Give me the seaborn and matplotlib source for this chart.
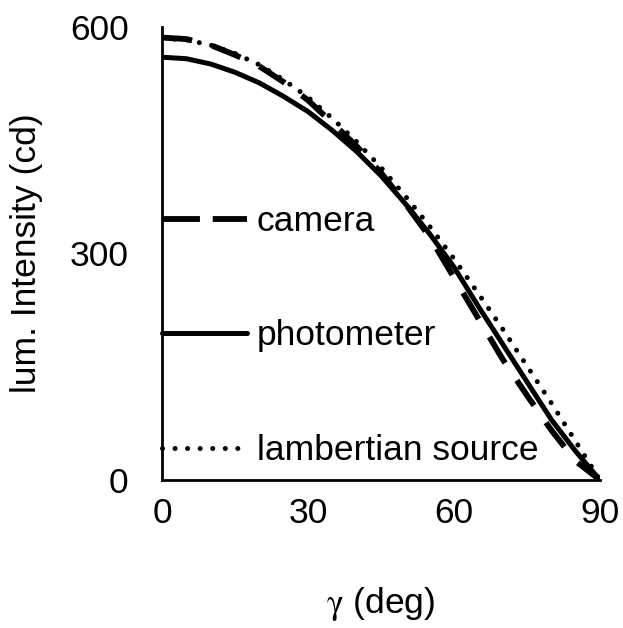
import numpy as np
import pandas as pd
import matplotlib
matplotlib.use("Agg")
import matplotlib.pyplot as plt
import seaborn as sns

# Emission angle (deg)
gamma_deg = [0, 5, 10, 15, 20, 25, 30, 35, 40, 45, 50, 55, 60, 65, 70, 75, 80, 85, 90]

# Luminous intensity (cd) per measurement method
camera = [586, 584, 576, 563, 548, 527, 503, 473, 442, 407, 366, 322, 268, 214, 160, 112, 66, 25, 0]
photometer = [560, 558, 551, 540, 526, 508, 488, 463, 435, 403, 366, 326, 282, 230, 180, 130, 80, 38, 0]
lambertian = [585, 583, 576, 565, 550, 530, 507, 479, 448, 414, 376, 336, 293, 247, 200, 151, 102, 51, 0]

series_names = ["camera", "photometer", "lambertian source"]
x_ticks = [0, 30, 60, 90]
y_ticks = [0, 300, 600]

df = pd.DataFrame({
    "gamma": gamma_deg * 3,
    "intensity": camera + photometer + lambertian,
    "series": [series_names[0]] * len(gamma_deg)
              + [series_names[1]] * len(gamma_deg)
              + [series_names[2]] * len(gamma_deg),
})

sns.set_theme(style="white")
plt.rcParams["font.family"] = ["Liberation Sans", "DejaVu Sans"]
plt.rcParams["mathtext.fontset"] = "stix"

FS = 25.5

fig = plt.figure(figsize=(6.23, 6.28), dpi=100)
ax = fig.add_axes([162 / 623, 1 - 480 / 628, (600 - 162) / 623, (480 - 27) / 628])

styles = {
    "camera": dict(lw=4.2, linestyle=(0, (5.2, 3.6)), dash_capstyle="butt"),
    "photometer": dict(lw=3.6, linestyle="-", solid_capstyle="round"),
    "lambertian source": dict(lw=3.6, linestyle=(0, (0.01, 2.5)), dash_capstyle="round"),
}

for name in series_names:
    sub = df[df["series"] == name]
    sns.lineplot(data=sub, x="gamma", y="intensity", ax=ax, color="black",
                 label=name, sort=False, estimator=None, **styles[name])

ax.set_xlim(0, 90)
ax.set_ylim(0, 600)
ax.set_xticks(x_ticks)
ax.set_yticks(y_ticks)
ax.tick_params(axis="both", length=0, labelsize=FS, colors="black")
ax.tick_params(axis="y", pad=24)
ax.tick_params(axis="x", pad=12)

for side in ["top", "right"]:
    ax.spines[side].set_visible(False)
for side in ["left", "bottom"]:
    ax.spines[side].set_color("black")
    ax.spines[side].set_linewidth(2.0)

ax.set_xlabel(r"$\mathrm{\gamma}$ (deg)", fontsize=FS, color="black", labelpad=40)
ax.set_ylabel("lum. Intensity (cd)", fontsize=FS, color="black", labelpad=19)

leg = ax.legend(loc="center left", bbox_to_anchor=(0, 0.318), frameon=False,
                fontsize=FS, handlelength=2.4, handletextpad=0.28,
                labelspacing=2.3, borderpad=0, borderaxespad=0)
for t in leg.get_texts():
    t.set_color("black")
# longer dashes on the short legend sample
leg.get_lines()[0].set_dashes((6.5, 2.2))

fig.savefig("out.png", dpi=100)
